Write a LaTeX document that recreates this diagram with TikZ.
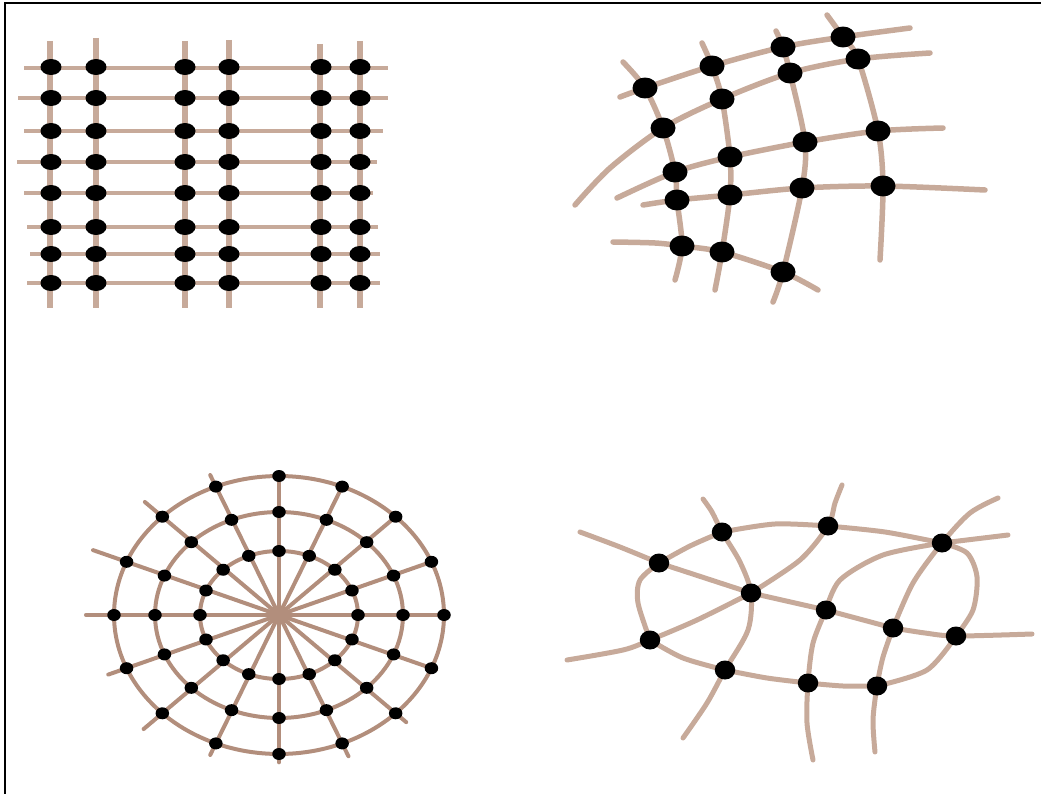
\documentclass[tikz,border=0pt]{standalone}
\usetikzlibrary{shapes.geometric}
\definecolor{fibre}{RGB}{199,170,154}
\definecolor{webline}{RGB}{178,142,124}

\begin{document}
\begin{tikzpicture}[
    x=0.02cm, y=-0.02cm,
    strand/.style={draw=fibre, line width=0.11cm, line cap=round},
    thread/.style={draw=webline, line width=0.08cm, line cap=round},
    knot/.style={ellipse, fill=black, inner sep=0pt, minimum width=0.42cm, minimum height=0.32cm},
    bigknot/.style={knot, minimum width=0.5cm, minimum height=0.42cm},
    webknot/.style={knot, minimum width=0.27cm, minimum height=0.24cm},
    meshknot/.style={knot, minimum width=0.41cm, minimum height=0.38cm}
]
\useasboundingbox (0,0) rectangle (1041,794);
\draw[line width=0.04cm] (1041,3) -- (5,3) -- (5,794);

% regular grid
\foreach \y/\xa/\xb in {68/24/388, 98/18/388, 131/24/383, 162/17/377, 193/24/373, 227/27/378, 254/30/380, 283/27/380}
  \draw[strand, line width=0.09cm, line cap=butt] (\xa,\y) -- (\xb,\y);
\foreach \x/\ya in {50/41, 96/38, 185/41, 229/40, 320/44, 360/41}
  \draw[strand, line cap=butt] (\x,\ya) -- (\x,308);
\foreach \x [count=\i] in {51,96,185,229,321,360}
  \foreach \y [count=\j] in {67,98,131,162,193,227,254,283}
    \node[knot] (g-\i-\j) at (\x,\y) {};

% curved grid
\draw[strand] plot[smooth] coordinates {(620,97) (645,88) (712,66) (783,47) (843,37) (910,28)};
\draw[strand] plot[smooth] coordinates {(575,205) (610,168) (663,128) (722,99) (790,73) (858,59) (930,53)};
\draw[strand] plot[smooth] coordinates {(617,198) (675,172) (730,157) (805,142) (878,131) (943,128)};
\draw[strand] plot[smooth] coordinates {(643,205) (677,200) (730,195) (802,188) (883,186) (985,190)};
\draw[strand] plot[smooth] coordinates {(613,242) (655,243) (682,246) (722,252) (783,272) (818,290)};
\draw[strand] plot[smooth] coordinates {(623,62) (645,88) (663,128) (675,172) (677,200) (682,246) (675,280)};
\draw[strand] plot[smooth] coordinates {(702,43) (712,66) (722,99) (730,157) (730,195) (722,252) (715,290)};
\draw[strand] plot[smooth] coordinates {(776,31) (783,47) (790,73) (805,142) (802,188) (783,272) (773,302)};
\draw[strand] plot[smooth] coordinates {(827,15) (843,37) (858,59) (878,131) (883,186) (880,260)};
\foreach \px/\py [count=\k] in {645/88, 712/66, 783/47, 843/37, 663/128, 722/99, 790/73, 858/59,
    675/172, 730/157, 805/142, 878/131, 677/200, 730/195, 802/188, 883/186, 682/246, 722/252, 783/272}
  \node[bigknot] (c\k) at (\px,\py) {};

% web
\coordinate (hub) at (279,615);
\foreach \a/\f in {0/1.02, 22.5/1.02, 45/1.02, 67.5/1.02, 90/1.02, 112.5/1.09, 135/1.15, 157.5/1.22,
    180/1.17, 202.5/1.12, 225/1.16, 247.5/1.09, 270/1.06, 292.5/1.1, 315/1.09, 337.5/1.03}
  \draw[thread] (hub) -- ({279+\f*165*cos(\a)},{615-\f*139*sin(\a)});
\foreach \rx/\ry in {3.30/2.78, 2.48/2.06, 1.58/1.28}
  \draw[thread] (hub) ellipse [x radius=\rx cm, y radius=\ry cm];
\foreach \rx/\ry [count=\r] in {165/139, 124/103, 79/64}
  \foreach \a [count=\k] in {0,22.5,...,337.5}
    \node[webknot] (w-\r-\k) at ({279+\rx*cos(\a)},{615-\ry*sin(\a)}) {};

% irregular mesh
\foreach \n/\px/\py in {m1/722/532, m2/828/526, m3/942/543, m4/659/563, m5/751/593, m6/826/610,
    m7/893/628, m8/956/636, m9/650/640, m10/725/670, m11/808/683, m12/877/686}
  \coordinate (\n) at (\px,\py);
\begin{scope}[strand/.append style={line width=0.1cm}]
\draw[strand] plot[smooth] coordinates {(m4) (690,546) (m1)};
\draw[strand] plot[smooth] coordinates {(m1) (775,524) (m2)};
\draw[strand] plot[smooth] coordinates {(m2) (885,532) (m3)};
\draw[strand] plot[smooth] coordinates {(m4) (640,580) (638,603) (m9)};
\draw[strand] plot[smooth] coordinates {(m9) (683,658) (m10)};
\draw[strand] plot[smooth] coordinates {(m10) (767,678) (m11)};
\draw[strand] plot[smooth] coordinates {(m11) (843,686) (m12)};
\draw[strand] plot[smooth] coordinates {(m12) (927,670) (m8)};
\draw[strand] plot[smooth] coordinates {(m3) (967,553) (977,577) (973,610) (m8)};
\draw[strand] (m4) -- (m5) -- (m6) -- (m7);
\draw[strand] plot[smooth] coordinates {(m7) (925,633) (m8) (1032,634)};
\draw[strand] plot[smooth] coordinates {(m5) (697,620) (m9) (623,650) (567,660)};
\draw[strand] plot[smooth] coordinates {(m4) (620,547) (580,532)};
\draw[strand] plot[smooth] coordinates {(703,499) (712,512) (m1) (740,562) (m5) (748,630) (m10) (707,703) (683,738)};
\draw[strand] plot[smooth] coordinates {(m5) (800,560) (m2) (835,503) (842,485)};
\draw[strand] plot[smooth] coordinates {(m6) (813,643) (m11) (807,723) (813,760)};
\draw[strand] plot[smooth] coordinates {(m6) (840,580) (883,555) (m3)};
\draw[strand] plot[smooth] coordinates {(m7) (913,583) (m3) (970,513) (998,498)};
\draw[strand] plot[smooth] coordinates {(m7) (883,657) (m12) (873,720) (875,752)};
\draw[strand] (m3) -- (1008,535);
\end{scope}
\foreach \n in {m1,m2,m3,m4,m5,m6,m7,m8,m9,m10,m11,m12}
  \node[meshknot] (k\n) at (\n) {};

\end{tikzpicture}
\end{document}
